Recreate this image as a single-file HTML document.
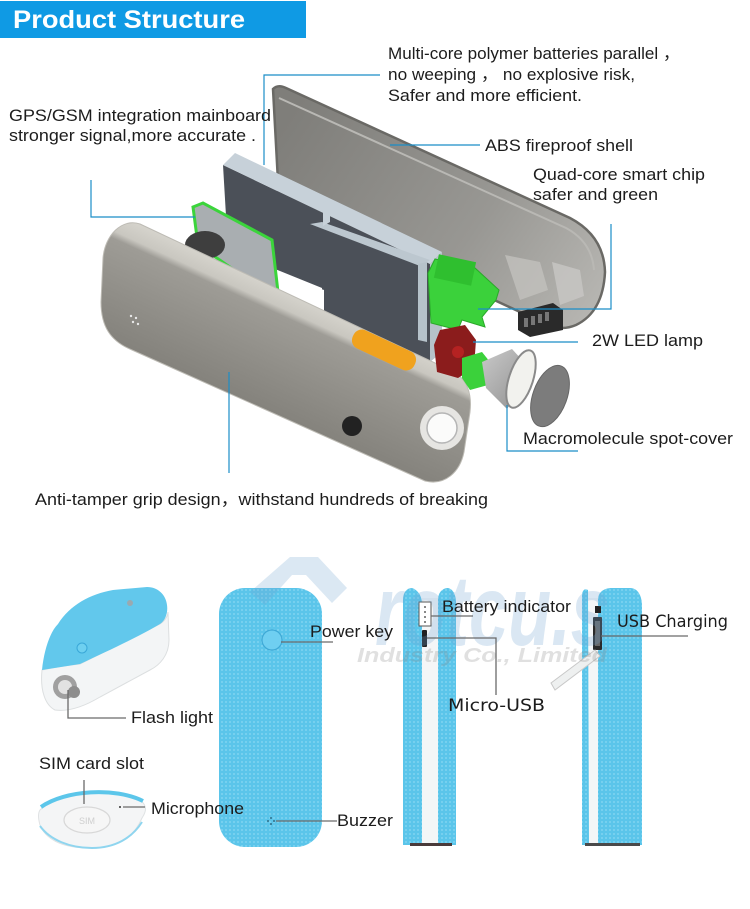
<!DOCTYPE html>
<html><head><meta charset="utf-8">
<style>
html,body{margin:0;padding:0;background:#fff;}
svg{display:block;}
text{font-family:"Liberation Sans","Noto Sans CJK SC",Arial,sans-serif;fill:#1c1c1c;}
.d{font-family:"DejaVu Sans","Liberation Sans",sans-serif;}
</style></head><body>
<svg width="750" height="909" viewBox="0 0 750 909" xmlns="http://www.w3.org/2000/svg">
<defs>
 <linearGradient id="bodyG" gradientUnits="userSpaceOnUse" x1="280" y1="285" x2="231" y2="392">
   <stop offset="0" stop-color="#d8d6cf"/>
   <stop offset="0.17" stop-color="#c9c7c0"/>
   <stop offset="0.23" stop-color="#9e9c96"/>
   <stop offset="1" stop-color="#85837d"/>
 </linearGradient>
 <linearGradient id="shellG" gradientUnits="userSpaceOnUse" x1="300" y1="100" x2="600" y2="300">
   <stop offset="0" stop-color="#7f7e7a"/>
   <stop offset="0.6" stop-color="#989793"/>
   <stop offset="1" stop-color="#b6b5b1"/>
 </linearGradient>
 <linearGradient id="coneG" x1="0" y1="0" x2="1" y2="1">
   <stop offset="0" stop-color="#c9c9c9"/>
   <stop offset="1" stop-color="#8c8c8c"/>
 </linearGradient>
 <pattern id="dots" width="4" height="4" patternUnits="userSpaceOnUse">
   <rect width="4" height="4" fill="#5bc5ea"/>
   <circle cx="2" cy="2" r="0.9" fill="#8ad8f3"/>
 </pattern>
</defs>

<!-- header -->
<rect x="0" y="1" width="306" height="37" fill="#0f9ae4"/>
<text x="13" y="28" font-size="25" font-weight="bold" style="fill:#fff" textLength="232" lengthAdjust="spacingAndGlyphs">Product Structure</text>

<!-- ===== exploded view ===== -->
<!-- back shell -->
<path d="M273 89 Q278 84 286 88 L570 218 Q604 236 605 272 Q603 312 576 325 Q562 331 548 325 L279 200 Z" fill="url(#shellG)" stroke="#6a6965" stroke-width="2.5"/>
<path d="M279 98 L566 228 Q592 242 594 270" fill="none" stroke="#b9b8b4" stroke-width="2"/>
<path d="M505 255 L540 262 L548 290 L520 300 Z" fill="#c2c1bd" opacity="0.8"/>
<path d="M552 262 L580 270 L584 296 L560 305 Z" fill="#c8c7c4" opacity="0.8"/>
<!-- black connector -->
<path d="M518 312 L553 303 L563 310 L563 330 L530 337 L518 330 Z" fill="#2a2a2a"/>
<rect x="524" y="318" width="4" height="9" fill="#777"/>
<rect x="531" y="316" width="4" height="9" fill="#777"/>
<rect x="538" y="314" width="4" height="9" fill="#777"/>
<rect x="545" y="312" width="4" height="9" fill="#777"/>

<!-- battery -->
<path d="M223 165 L430 264 L430 362 L322 318 L322 288 L228 250 Z" fill="#4b5058"/>
<path d="M223 165 L235 153 L442 252 L430 264 Z" fill="#c7d1d9"/>
<path d="M430 264 L442 252 L442 352 L430 362 Z" fill="#b6c2ca"/>
<path d="M310 224 L322 222 L430 260 L420 266 Z" fill="#bcc7cf"/>
<path d="M418 264 L427 262 L427 342 L418 340 Z" fill="#b6c2ca"/>
<path d="M323 203 L330 199 L330 222 L323 226 Z" fill="#c7d1d9"/>
<path d="M318 288 L324 290 L324 314 L318 312 Z" fill="#ffffff"/>

<!-- right green PCB -->
<path d="M428 273 L435 259 L475 268 L499 290 L496 300 L482 317 L485 327 L462 320 L458 330 L431 323 Z" fill="#3bd13b" stroke="#2aa82a" stroke-width="1"/>
<rect x="436" y="258" width="38" height="24" fill="#2fbf2f" transform="rotate(12 455 270)"/>

<!-- GPS board -->
<path d="M193 207 L203 203 L272 240 L278 292 L266 292 L198 245 Z" fill="#a9aeb1" stroke="#3bd43b" stroke-width="3"/>
<ellipse cx="205" cy="245" rx="20" ry="14" fill="#3e3e3e"/>

<!-- main body -->
<path d="M140 224 L452 371 C468 379 472 395 470 412 L464 452 C460 472 445 486 425 481 L132 350 C110 341 101 326 101 302 L103 258 C105 235 122 218 140 224 Z" fill="url(#bodyG)" stroke="#bdbbb4" stroke-width="1"/>
<rect x="350" y="340" width="68" height="20" rx="9" fill="#f0a21e" transform="rotate(25 384 350)"/>
<circle cx="352" cy="426" r="10" fill="#222"/>
<circle cx="442" cy="428" r="22" fill="#e6e5e2"/>
<circle cx="442" cy="428" r="15" fill="#fbfbfa" stroke="#b5b5b5" stroke-width="1.5"/>
<g fill="#e8e8e8"><circle cx="131" cy="316" r="1.2"/><circle cx="136" cy="318" r="1.2"/><circle cx="133" cy="322" r="1.2"/><circle cx="138" cy="324" r="1.2"/></g>

<!-- red LED -->
<path d="M440 330 L465 325 L476 340 L474 368 L458 378 L437 372 L434 345 Z" fill="#8b1c1c"/>
<circle cx="458" cy="352" r="6" fill="#b52222"/>
<!-- lower green -->
<path d="M462 358 L482 352 L490 362 L488 385 L470 390 L462 378 Z" fill="#3bd13b"/>
<!-- reflector cone -->
<path d="M482 362 L512 349 L533 372 L507 409 L486 388 Z" fill="url(#coneG)"/>
<ellipse cx="521" cy="379" rx="12" ry="30" transform="rotate(18 521 379)" fill="#f2f2ee" stroke="#8a8a8a" stroke-width="2"/>
<!-- spot cover -->
<ellipse cx="550" cy="396" rx="17" ry="32" transform="rotate(20 550 396)" fill="#7c7c7c" stroke="#666" stroke-width="1"/>

<!-- blue connector lines -->
<g fill="none" stroke="#1b8ec8" stroke-width="1.2">
 <polyline points="91,180 91,217 195,217"/>
 <polyline points="380,75 264,75 264,165"/>
 <polyline points="390,145 480,145"/>
 <polyline points="611,224 611,309 478,309"/>
 <polyline points="473,342 578,342"/>
 <polyline points="507,405 507,451 578,451"/>
 <polyline points="229,372 229,473"/>
</g>

<!-- top labels -->
<g font-size="17">
 <text x="9" y="121" textLength="262" lengthAdjust="spacingAndGlyphs">GPS/GSM integration mainboard</text>
 <text x="9" y="141" textLength="247" lengthAdjust="spacingAndGlyphs">stronger signal,more accurate .</text>
 <text x="388" y="59" textLength="292" lengthAdjust="spacingAndGlyphs">Multi-core polymer batteries parallel ，</text>
 <text x="388" y="80" textLength="247" lengthAdjust="spacingAndGlyphs">no weeping ， no explosive risk,</text>
 <text x="388" y="101" textLength="194" lengthAdjust="spacingAndGlyphs">Safer and more efficient.</text>
 <text x="485" y="151" textLength="148" lengthAdjust="spacingAndGlyphs">ABS fireproof shell</text>
 <text x="533" y="180" textLength="172" lengthAdjust="spacingAndGlyphs">Quad-core smart chip</text>
 <text x="533" y="200" textLength="125" lengthAdjust="spacingAndGlyphs">safer and green</text>
 <text x="592" y="346" textLength="111" lengthAdjust="spacingAndGlyphs">2W LED lamp</text>
 <text x="523" y="444" textLength="210" lengthAdjust="spacingAndGlyphs">Macromolecule spot-cover</text>
 <text x="35" y="505" textLength="453" lengthAdjust="spacingAndGlyphs">Anti-tamper grip design，withstand hundreds of breaking</text>
</g>

<!-- ===== bottom devices ===== -->
<!-- top-left device -->
<path d="M42 670 C60 666 80 664 80 664 L160 624 C166 620 168 615 168 612 L169 640 C169 655 160 665 150 670 L100 697 C85 706 70 712 55 710 C45 705 40 690 42 670 Z" fill="#f3f5f6" stroke="#dcdfe0" stroke-width="1"/>
<path d="M42 670 C44 650 50 632 58 624 C70 605 90 594 113 590 L147 587 C158 587 166 595 167 605 C168 612 166 620 160 624 C140 636 110 650 80 664 Z" fill="#62c8ec"/>
<circle cx="82" cy="648" r="5" fill="#6ed0f0" stroke="#3aa8d8" stroke-width="1"/>
<circle cx="130" cy="603" r="3" fill="#9aa9b0"/>
<circle cx="65" cy="687" r="12" fill="#a0a0a0"/>
<circle cx="65" cy="687" r="7" fill="#e2e2e2"/>
<circle cx="74" cy="692" r="6" fill="#8d8d8d"/>

<!-- SIM oval device -->
<path d="M40 810 C60 790 115 785 140 800 C148 806 146 812 142 818 C135 835 120 848 90 848 C60 848 45 838 40 825 C38 818 38 813 40 810 Z" fill="#f4f5f6" stroke="#dfe2e3" stroke-width="1"/>
<path d="M41 807 C65 790 115 787 143 801" fill="none" stroke="#5cc6ea" stroke-width="4"/>
<path d="M40 826 C50 840 70 848 92 848 C115 848 132 838 142 822" fill="none" stroke="#8fd5ef" stroke-width="2"/>
<ellipse cx="87" cy="820" rx="23" ry="13" fill="#f6f6f6" stroke="#d8d8d8" stroke-width="1.2"/>
<text x="79" y="824" font-size="9" style="fill:#cfcfcf">SIM</text>

<!-- front device -->
<rect x="219" y="588" width="103" height="259" rx="26" fill="url(#dots)"/>
<circle cx="272" cy="640" r="10" fill="#6fcff1" stroke="#3fa9d6" stroke-width="1.2"/>
<g fill="#2f6f8a"><circle cx="268" cy="821" r="1"/><circle cx="274" cy="821" r="1"/><circle cx="271" cy="818" r="1"/><circle cx="271" cy="824" r="1"/></g>

<!-- side device 1 -->
<path d="M413 845 L422 800 L438 800 L447 845 Z" fill="#f4f6f7"/>
<rect x="422" y="598" width="16" height="247" fill="#f4f6f7"/>
<path d="M403 845 L403 600 C403 592 407 588 412 588 C418 590 422 596 422 604 L422 845 Z" fill="url(#dots)"/>
<path d="M438 845 L438 600 C438 592 443 588 448 588 C453 589 456 595 456 603 L456 845 Z" fill="url(#dots)"/>
<rect x="410" y="843" width="42" height="3" fill="#4a3a3a"/>
<rect x="419" y="602" width="12" height="24" fill="#fff" stroke="#555" stroke-width="1"/>
<g fill="#333"><circle cx="425" cy="607" r="0.9"/><circle cx="425" cy="612" r="0.9"/><circle cx="425" cy="617" r="0.9"/><circle cx="425" cy="622" r="0.9"/></g>
<rect x="422" y="630" width="5" height="17" rx="1" fill="#222"/>

<!-- side device 2 -->
<rect x="588" y="598" width="12" height="247" fill="#f4f6f7"/>
<path d="M582 845 L582 596 C582 590 585 588 588 590 L589 845 Z" fill="url(#dots)"/>
<path d="M598 845 L598 600 C598 592 604 588 612 588 L630 588 C638 588 642 596 642 606 L642 845 Z" fill="url(#dots)"/>
<rect x="585" y="843" width="55" height="3" fill="#4a4a4a"/>
<rect x="595" y="606" width="6" height="7" fill="#222"/>
<rect x="593" y="617" width="9" height="33" rx="1" fill="#2a2a2a"/>
<rect x="595" y="621" width="5" height="25" fill="#666"/>
<path d="M555 690 L551 683 L595 650 L600 656 Z" fill="#eef0f0" stroke="#c8c8c8" stroke-width="1"/>

<!-- watermark -->
<path d="M250 592 L290 557 L318 557 L347 588 L332 603 L306 575 L292 575 L265 605 Z" fill="#6fa3d0" opacity="0.25"/>
<text x="375" y="645" font-size="100" font-weight="bold" font-style="italic" style="fill:#6fa3d0" opacity="0.25" textLength="235" lengthAdjust="spacingAndGlyphs">rotcu.s</text>
<text x="357" y="662" font-size="20" font-weight="bold" font-style="italic" style="fill:#888" opacity="0.25" textLength="250" lengthAdjust="spacingAndGlyphs">Industry Co., Limited</text>

<!-- gray connector lines -->
<g fill="none" stroke="#6a6a6a" stroke-width="1.3">
 <polyline points="68,690 68,718 126,718"/>
 <polyline points="84,780 84,804"/>
 <polyline points="123,807 145,807"/>
 <polyline points="281,642 333,642"/>
 <polyline points="276,821 337,821"/>
 <polyline points="431,616 473,616"/>
 <polyline points="427,638 496,638 496,695"/>
 <polyline points="601,636 688,636"/>
</g>
<circle cx="120" cy="807" r="1" fill="#333"/>

<!-- bottom labels -->
<g font-size="17">
 <text x="131" y="723" textLength="82" lengthAdjust="spacingAndGlyphs">Flash light</text>
 <text x="39" y="769" textLength="105" lengthAdjust="spacingAndGlyphs">SIM card slot</text>
 <text x="151" y="814" textLength="93" lengthAdjust="spacingAndGlyphs">Microphone</text>
 <text x="310" y="637" textLength="83" lengthAdjust="spacingAndGlyphs">Power key</text>
 <text x="337" y="826" textLength="56" lengthAdjust="spacingAndGlyphs">Buzzer</text>
 <text x="442" y="612" textLength="129" lengthAdjust="spacingAndGlyphs">Battery indicator</text>
 <text class="d" x="448" y="711" textLength="97" lengthAdjust="spacingAndGlyphs">Micro-USB</text>
 <text class="d" x="617" y="627" textLength="111" lengthAdjust="spacingAndGlyphs">USB Charging</text>
</g>
</svg>
</body></html>
